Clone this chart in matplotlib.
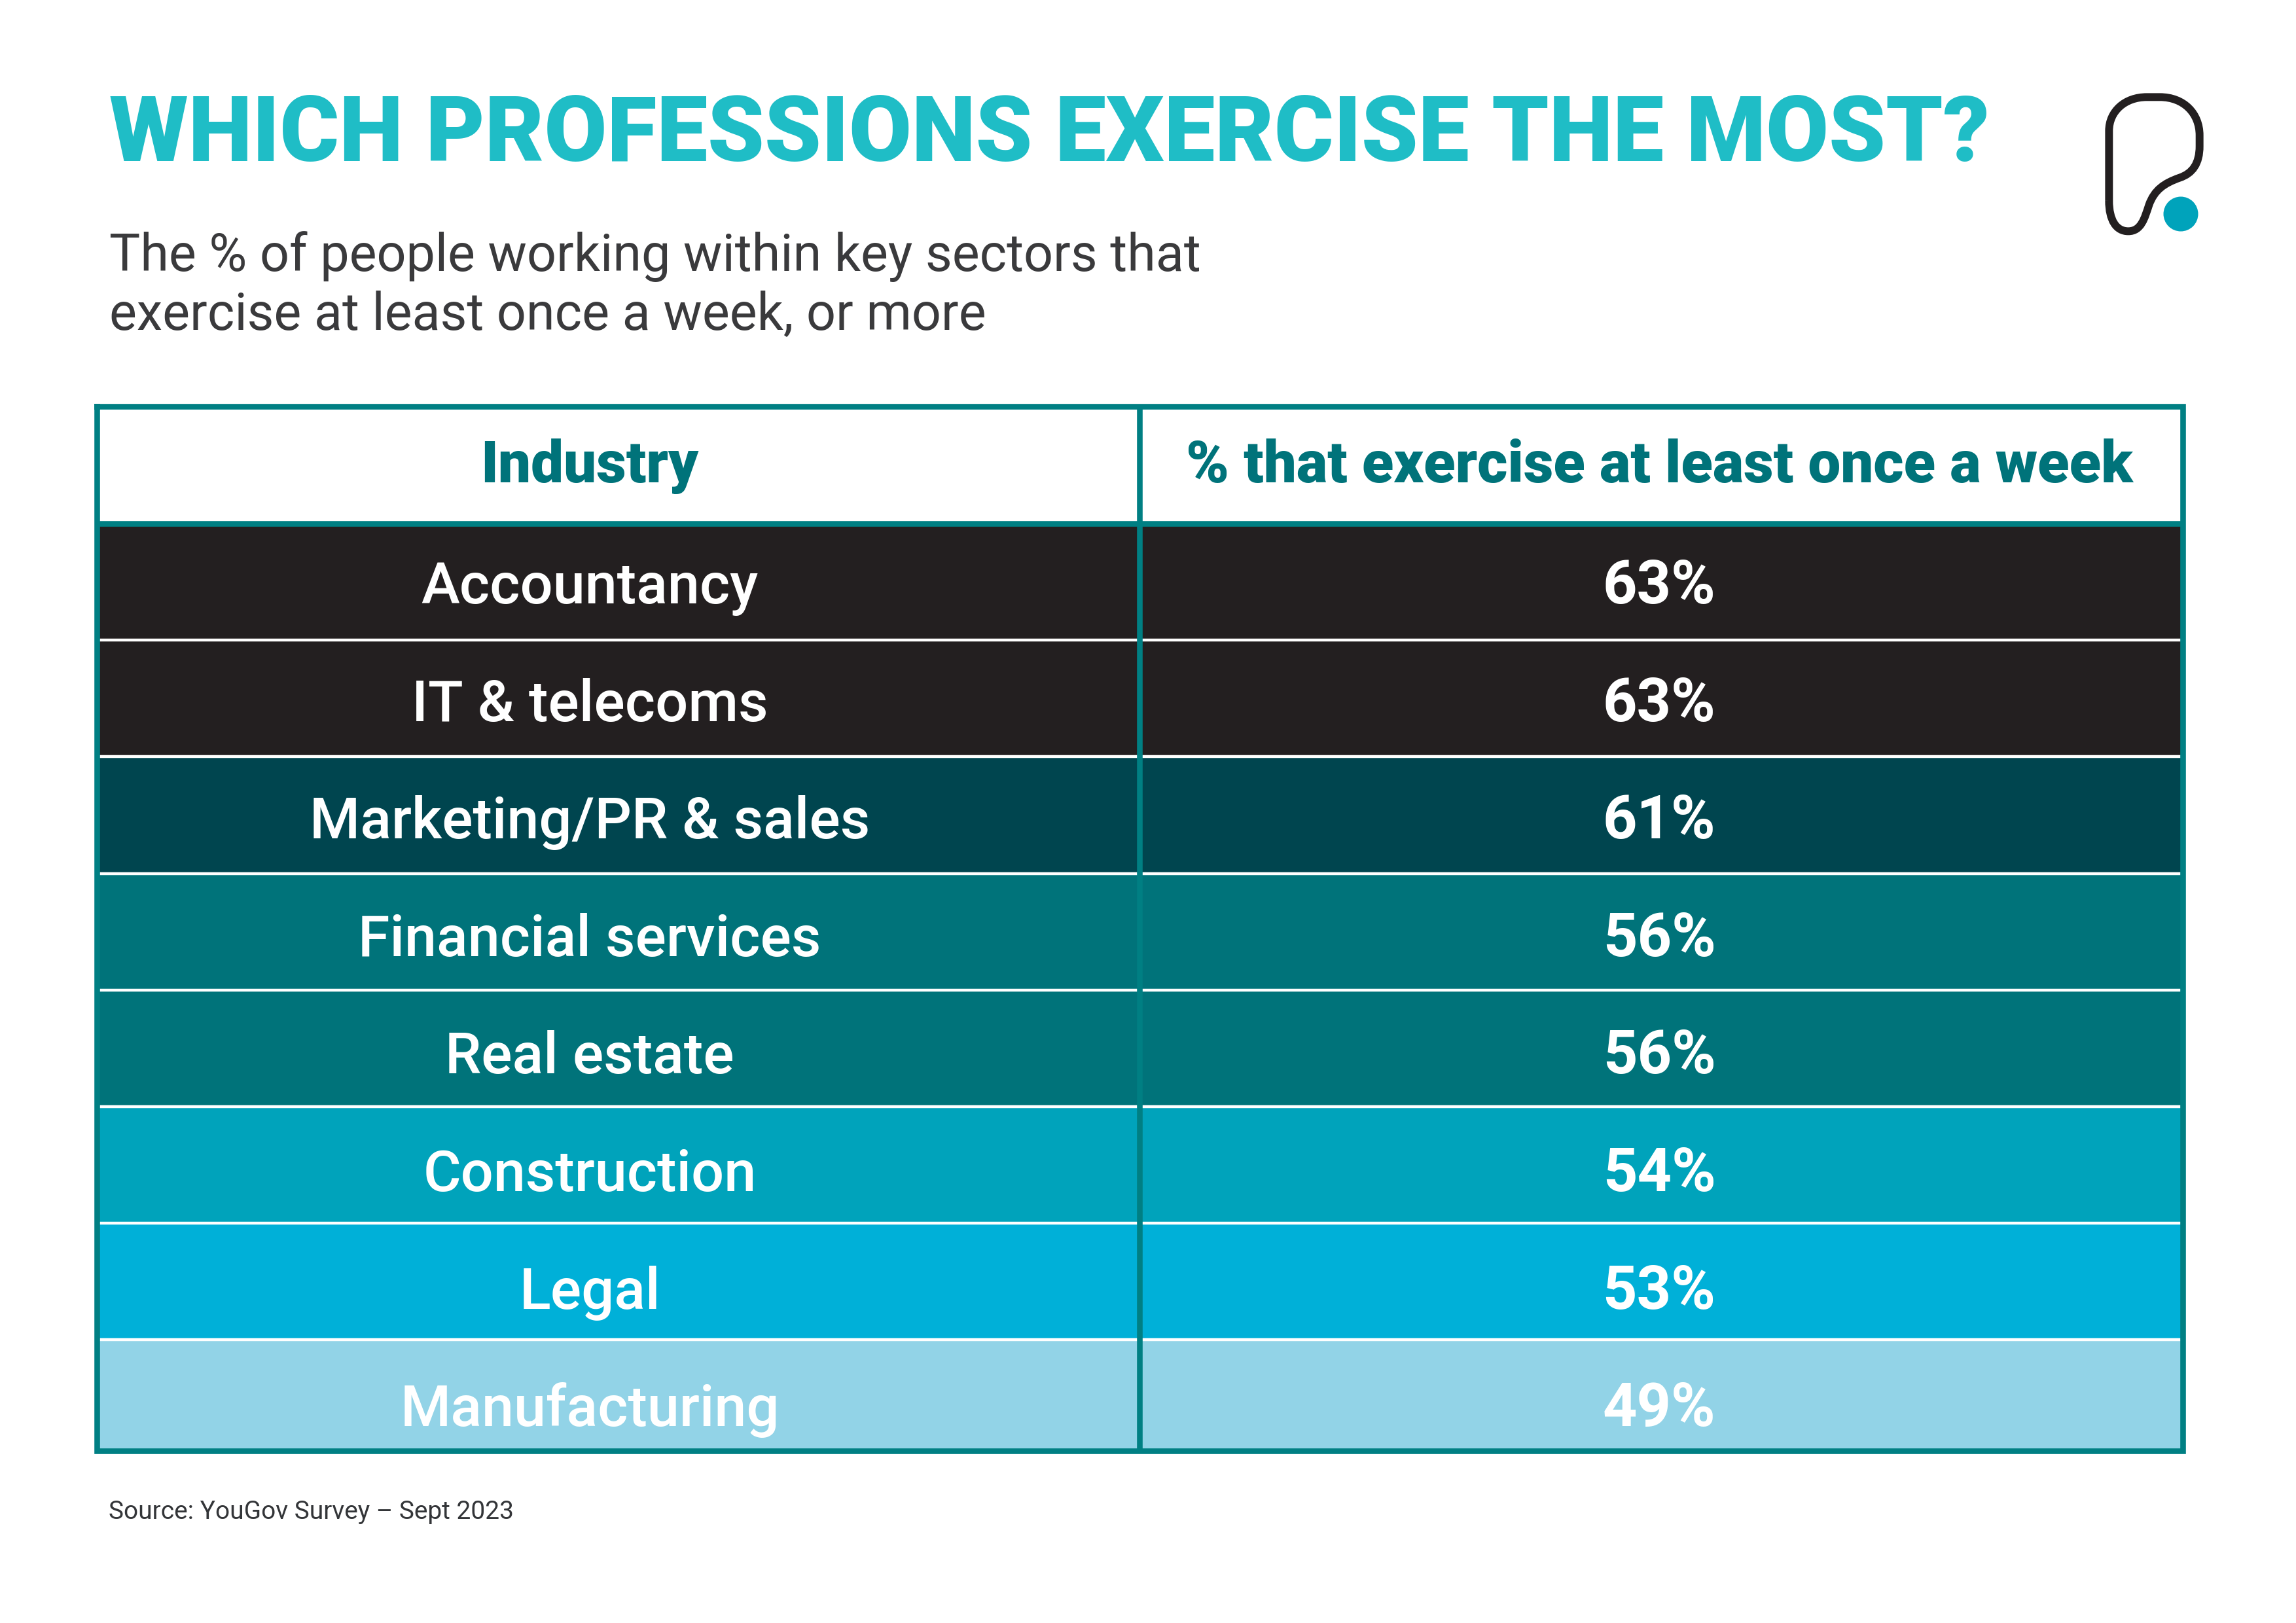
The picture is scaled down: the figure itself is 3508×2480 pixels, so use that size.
import numpy as np
import matplotlib
matplotlib.use("Agg")
import matplotlib.pyplot as plt
from matplotlib.patches import Circle, PathPatch
from matplotlib.path import Path

industries = ["Accountancy", "IT & telecoms", "Marketing/PR & sales", "Financial services",
              "Real estate", "Construction", "Legal", "Manufacturing"]
percent = [63, 63, 61, 56, 56, 54, 53, 49]
row_colors = ["#231F20", "#231F20", "#00454F", "#00737A", "#00737A", "#00A3BB", "#00B0D8", "#92D3E7"]
headers = ["Industry", "% that exercise at least once a week"]

title = "WHICH PROFESSIONS EXERCISE THE MOST?"
subtitle = ["The % of people working within key sectors that", "exercise at least once a week, or more"]
source = "Source: YouGov Survey \u2013 Sept 2023"

TEAL = "#007F83"

fig = plt.figure(figsize=(35.08, 24.8), dpi=100)
ax = fig.add_axes([0, 0, 1, 1])
ax.set_xlim(0, 3508)
ax.set_ylim(2480, 0)
ax.axis("off")

# table geometry in pixels
left, mid, right = 148, 1741, 3335
top, head_bottom, bottom = 621, 800, 2217
row_step = 178.2
col_x = [901, 2535]

# rows
for i, c in enumerate(row_colors):
    y0 = head_bottom + i * row_step
    y1 = min(y0 + row_step, bottom)
    ax.barh((y0 + y1) / 2, right - left, height=y1 - y0, left=left, color=c, linewidth=0)
    if i < len(row_colors) - 1:
        ax.plot([left, right], [y1, y1], color="white", lw=3.2, solid_capstyle="butt")

# borders
ax.plot([left, right, right, left, left], [top, top, bottom, bottom, top], color=TEAL, lw=6.2,
        solid_joinstyle="miter", solid_capstyle="projecting")
ax.plot([left, right], [head_bottom, head_bottom], color=TEAL, lw=6.2, solid_capstyle="butt")
ax.plot([mid, mid], [top, bottom], color=TEAL, lw=6.2, solid_capstyle="butt")

# header and rows text
for x, h in zip(col_x, headers):
    ax.text(x, 737, h, ha="center", va="baseline", fontsize=64, color="#00737A",
            family="Roboto", weight="black")
for i, (name, p) in enumerate(zip(industries, percent)):
    base = 922 + i * 179.6
    ax.text(col_x[0], base, name, ha="center", va="baseline", fontsize=63.5, color="white",
            family="Roboto", weight="medium")
    ax.text(col_x[1], base, f"{p}%", ha="center", va="baseline", fontsize=66, color="white",
            family="Roboto", weight="bold")

# title block
ax.text(167, 246, title, ha="left", va="baseline", fontsize=100, color="#1FBDC6",
        family="Roboto", weight="black")
ax.text(167, 414, subtitle[0], ha="left", va="baseline", fontsize=57, color="#3A3A3C", family="Roboto")
ax.text(167, 503, subtitle[1], ha="left", va="baseline", fontsize=57, color="#3A3A3C", family="Roboto")
ax.text(166, 2321, source, ha="left", va="baseline", fontsize=28, color="#333538", family="Roboto")

# logo, outline
logo_pts = [(367, 620), (367, 300),
            (367, 210), (440, 145), (540, 145),
            (600, 145),
            (710, 145), (782, 220), (782, 320),
            (782, 370),
            (782, 450), (750, 495), (690, 515),
            (620, 540), (575, 570), (550, 640),
            (530, 700), (515, 760), (455, 760),
            (400, 760), (367, 710), (367, 620)]
logo_xy = np.array([[3100 + x / 3, 100 + y / 3] for x, y in logo_pts])
logo_codes = [Path.MOVETO, Path.LINETO] + [Path.CURVE4] * 3 + [Path.LINETO] + [Path.CURVE4] * 3 + \
    [Path.LINETO] + [Path.CURVE4] * 12
ax.add_patch(PathPatch(Path(logo_xy, logo_codes), fill=False, edgecolor="#231F20", lw=8.6))
ax.add_patch(Circle((3332, 327), 26.5, color="#00A3BB", lw=0))

fig.savefig("out.png", dpi=100)
